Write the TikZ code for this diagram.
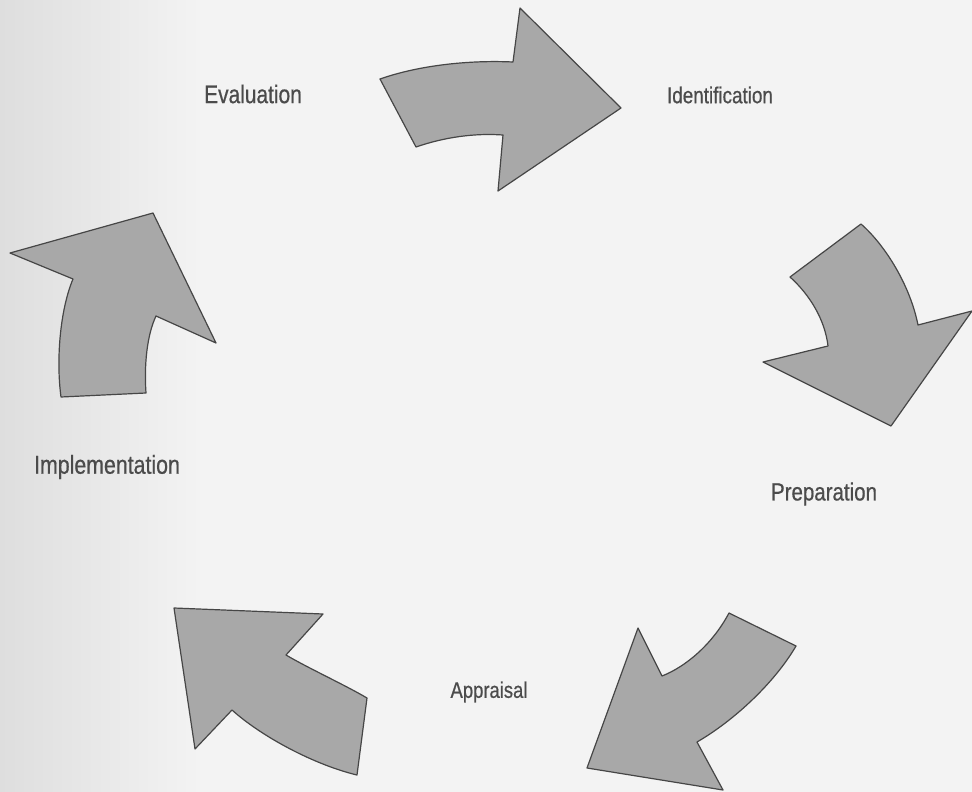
\documentclass[tikz,border=0pt]{standalone}
\usepackage{fontspec}
\setmainfont{Liberation Sans}
\newfontfamily\labfont[FakeStretch=0.82,FakeBold=0.6]{Liberation Sans}
\definecolor{bgc}{RGB}{243,243,243}
\definecolor{bgl}{RGB}{222,222,222}
\definecolor{arrowfill}{RGB}{168,168,168}
\definecolor{arrowline}{RGB}{70,70,70}
\definecolor{labc}{RGB}{75,75,75}
\tikzset{
  bigarrow/.style={fill=arrowfill, draw=arrowline, line width=1.2pt, line join=round},
  lab/.style={text=labc, inner sep=0pt, font=\labfont}
}
\begin{document}
\begin{tikzpicture}[x=1pt,y=-1pt]
\useasboundingbox (0,0) rectangle (972,792);
\fill[bgc] (0,0) rectangle (972,792);
\shade[left color=bgl, right color=bgc] (0,0) rectangle (200,792);
% top arrow (to Identification)
\path[bigarrow] (380,79) .. controls (420,65) and (470,60) .. (513,62)
  -- (520,8) -- (621,108) -- (498,191) -- (503,135)
  .. controls (475,133) and (445,137) .. (416,147) -- cycle;
% right arrow (to Preparation)
\path[bigarrow] (790,277) -- (861,224) .. controls (885,245) and (910,285) .. (918,325)
  -- (972,311) -- (891,426) -- (763,362) -- (828,346)
  .. controls (825,320) and (810,295) .. cycle;
% bottom right arrow (to Appraisal)
\path[bigarrow] (729,613) -- (796,646) .. controls (775,682) and (735,720) .. (697,742)
  -- (723,790) -- (587,768) -- (638,628) -- (662,676)
  .. controls (685,667) and (712,645) .. cycle;
% bottom left arrow (to Implementation)
\path[bigarrow] (174,608) -- (323,614) -- (286,655)
  .. controls (308,668) and (345,685) .. (367,698) -- (357,775)
  .. controls (315,765) and (262,737) .. (232,710) -- (195,749) -- cycle;
% left arrow (to Evaluation)
\path[bigarrow] (10,253) -- (153,213) -- (216,343) -- (156,316)
  .. controls (147,335) and (144,365) .. (146,393) -- (61,397)
  .. controls (56,360) and (60,310) .. (73,279) -- cycle;
% labels
\node[lab, font=\labfont\fontsize{25.5}{28}\selectfont] (eval) at (253,94) {Evaluation};
\node[lab, font=\labfont\fontsize{23}{26}\selectfont] (ident) at (720,95) {Identification};
\node[lab, font=\labfont\fontsize{26}{29}\selectfont] (impl) at (107,467) {Implementation};
\node[lab, font=\labfont\fontsize{25}{28}\selectfont] (prep) at (824,494) {Preparation};
\node[lab, font=\labfont\fontsize{22.5}{25}\selectfont] (appr) at (489,692) {Appraisal};
\end{tikzpicture}
\end{document}
